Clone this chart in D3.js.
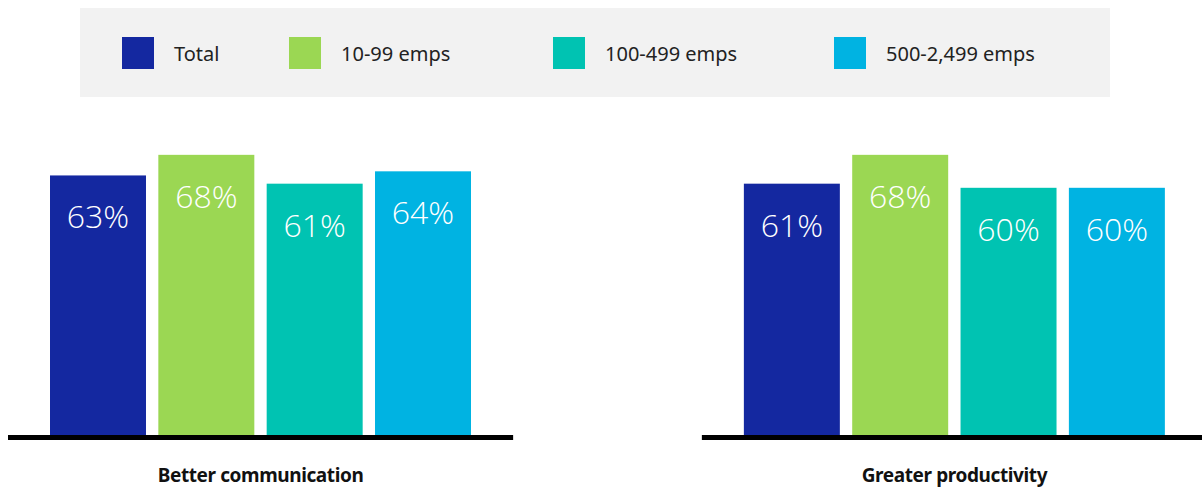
<!DOCTYPE html>
<html>
<head>
<meta charset="utf-8">
<script src="https://cdn.jsdelivr.net/npm/d3@7"></script>
<style>
  html, body { margin: 0; padding: 0; background: #ffffff; }
  svg { display: block; }
</style>
</head>
<body>
<svg id="chart" width="1202" height="488"></svg>
<script>
// Benefits reported, by company size
const categories = ["Better communication", "Greater productivity"];
const series = ["Total", "10-99 emps", "100-499 emps", "500-2,499 emps"];
const totalValues = [63, 61];
const small = [68, 68];
const medium = [61, 60];
const large = [64, 60];
const seriesValues = [totalValues, small, medium, large];
const colors = ["#1428a0", "#9bd753", "#00c3b2", "#00b3e2"];

const svg = d3.select("#chart");

// Legend panel
const legend = svg.append("g");
legend.append("rect")
  .attr("x", 80).attr("y", 8).attr("width", 1030).attr("height", 89)
  .attr("fill", "#f2f2f2");

const legendStarts = [122, 289, 553, 834];
const items = legend.selectAll("g.item").data(series).enter().append("g")
  .attr("class", "item")
  .attr("transform", (d, i) => `translate(${legendStarts[i]},37)`);
items.append("rect").attr("width", 32).attr("height", 32)
  .attr("fill", (d, i) => colors[i]);
items.append("text")
  .attr("x", 52).attr("y", 24)
  .attr("font-family", "'Noto Sans', 'Open Sans', sans-serif")
  .attr("font-size", 20)
  .attr("fill", "#222")
  .text(d => d);

// One panel per category
const panelX = d3.scaleBand().domain(categories).range([8, 1207]).paddingInner(0.272);
const y = d3.scaleLinear().domain([0, 100]).range([435, 23]);
const barX = d3.scaleBand().domain(series).range([42, 463]).paddingInner(0.114);

const panels = svg.selectAll("g.panel").data(categories).enter().append("g")
  .attr("class", "panel")
  .attr("transform", d => `translate(${panelX(d)},0)`);

panels.each(function(cat, ci) {
  const g = d3.select(this);
  const data = series.map((s, si) => ({ s, v: seriesValues[si][ci], c: colors[si] }));

  g.selectAll("rect.bar").data(data).enter().append("rect")
    .attr("class", "bar")
    .attr("x", d => barX(d.s))
    .attr("y", d => y(d.v))
    .attr("width", barX.bandwidth())
    .attr("height", d => y(0) - y(d.v))
    .attr("fill", d => d.c);

  g.selectAll("text.val").data(data).enter().append("text")
    .attr("class", "val")
    .attr("x", d => barX(d.s) + barX.bandwidth() / 2)
    .attr("y", d => y(d.v) + 53)
    .attr("text-anchor", "middle")
    .attr("font-family", "'Open Sans', sans-serif")
    .attr("font-weight", 300)
    .attr("font-size", 32)
    .attr("fill", "#ffffff")
    .text(d => d.v + "%");

  // baseline
  g.append("line")
    .attr("x1", 0).attr("x2", panelX.bandwidth())
    .attr("y1", y(0) + 2.5).attr("y2", y(0) + 2.5)
    .attr("stroke", "#000").attr("stroke-width", 5);

  g.append("text")
    .attr("x", panelX.bandwidth() / 2)
    .attr("y", 482)
    .attr("text-anchor", "middle")
    .attr("font-family", "'Noto Sans', sans-serif")
    .attr("font-weight", 700)
    .attr("font-size", 19)
    .attr("letter-spacing", -0.4)
    .attr("fill", "#111")
    .text(cat);
});
</script>
</body>
</html>
